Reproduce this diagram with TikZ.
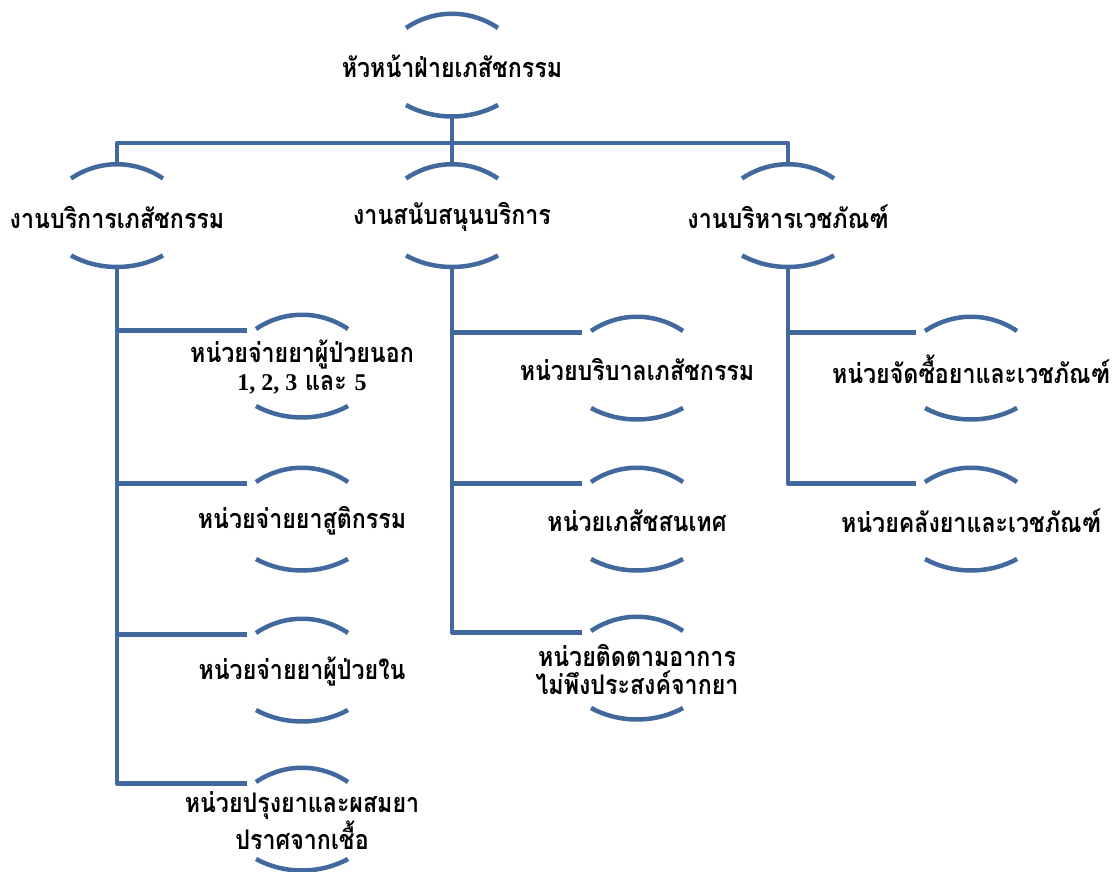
\documentclass[tikz,border=0pt]{standalone}
\usepackage{fontspec}
\newfontfamily\thaifont[Script=Thai,FakeStretch=0.86]{Loma}
\newfontfamily\numfont{Liberation Serif}
\usetikzlibrary{calc}
\definecolor{arcblue}{RGB}{65,105,157}
\tikzset{
  lbl/.style={font=\thaifont\bfseries\fontsize{27}{28}\selectfont, align=center, inner sep=0pt, text=black},
  conn/.style={draw=arcblue, line width=4.5pt, line join=round},
  arcline/.style={draw=arcblue, line width=4.5pt},
}
\newcommand\numtxt[1]{{\numfont\bfseries\fontsize{24}{28}\selectfont #1}}
% name, x, y, text
\newcommand\orgnode[4]{%
  \coordinate (#1-c) at (#2,#3);
  \node[lbl] (#1) at ($(#1-c)+(0,1.5)$) {#4};
  \draw[arcline] ($(#1-c)+(-46,-37)$) .. controls ($(#1-c)+(-18,-56)$) and ($(#1-c)+(18,-56)$) .. ($(#1-c)+(46,-37)$);
  \draw[arcline] ($(#1-c)+(-46,40)$) .. controls ($(#1-c)+(-18,55.3)$) and ($(#1-c)+(18,55.3)$) .. ($(#1-c)+(46,40)$);
  \coordinate (#1-t) at ($(#1-c)+(0,-51.5)$);
  \coordinate (#1-b) at ($(#1-c)+(0,51.5)$);
  \coordinate (#1-l) at ($(#1-c)+(-55,-35.5)$);
}
\begin{document}
\begin{tikzpicture}[x=1pt,y=-1pt]
\useasboundingbox (0,0) rectangle (1112,872);
\orgnode{T}{452}{65}{หัวหน้าฝ่ายเภสัชกรรม}
\orgnode{A}{117}{215.5}{งานบริการเภสัชกรรม}
\orgnode{B}{452}{215.5}{งานสนับสนุนบริการ}
\orgnode{C}{788}{215.5}{งานบริหารเวชภัณฑ์}
\orgnode{A1}{302}{366}{หน่วยจ่ายยาผู้ป่วยนอก\\\numtxt{1, 2, 3} และ \numtxt{5}}
\orgnode{A2}{302}{519}{หน่วยจ่ายยาสูติกรรม}
\orgnode{A3}{302}{670}{หน่วยจ่ายยาผู้ป่วยใน}
\orgnode{A4}{302}{819}{หน่วยปรุงยาและผสมยา\\ปราศจากเชื้อ}
\orgnode{B1}{637}{368}{หน่วยบริบาลเภสัชกรรม}
\orgnode{B2}{637}{519}{หน่วยเภสัชสนเทศ}
\orgnode{B3}{637}{668}{หน่วยติดตามอาการ\\ไม่พึงประสงค์จากยา}
\orgnode{C1}{971}{368}{หน่วยจัดซื้อยาและเวชภัณฑ์}
\orgnode{C2}{971}{519}{หน่วยคลังยาและเวชภัณฑ์}
\coordinate (bus) at (452,143);
% top level
\draw[conn] (T-b) -- (B-t);
\draw[conn] (A-t) -- (A-t |- bus) -| (C-t);
% branch A
\draw[conn] (A-b) |- (A4-l);
\draw[conn] (A-b |- A1-l) -- (A1-l);
\draw[conn] (A-b |- A2-l) -- (A2-l);
\draw[conn] (A-b |- A3-l) -- (A3-l);
% branch B
\draw[conn] (B-b) |- (B3-l);
\draw[conn] (B-b |- B1-l) -- (B1-l);
\draw[conn] (B-b |- B2-l) -- (B2-l);
% branch C
\draw[conn] (C-b) |- (C2-l);
\draw[conn] (C-b |- C1-l) -- (C1-l);
\end{tikzpicture}
\end{document}
